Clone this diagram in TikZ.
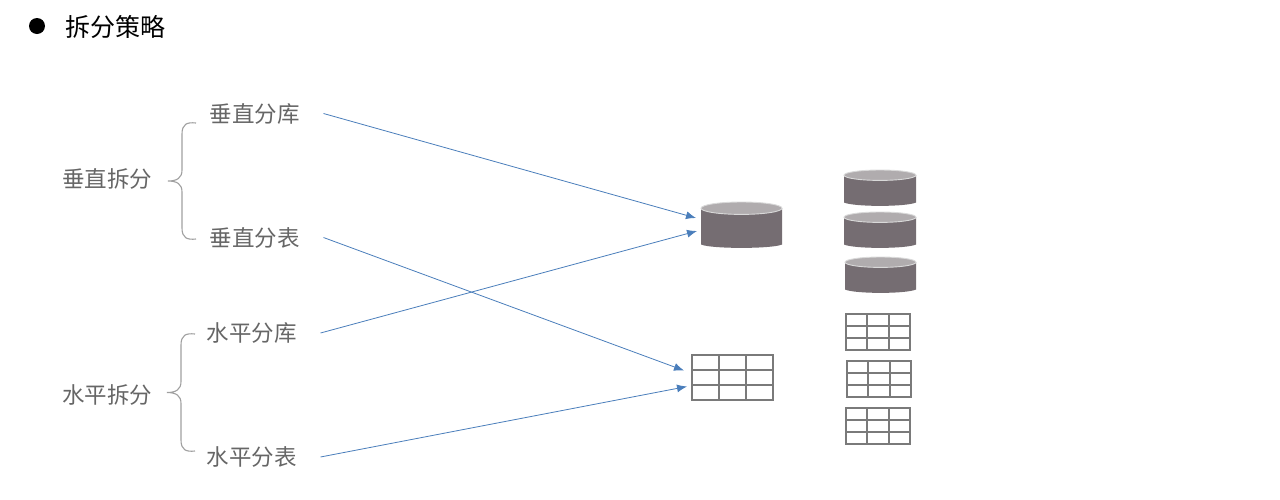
\documentclass[tikz,border=0pt]{standalone}
\usepackage{fontspec}
\setmainfont{Noto Sans CJK SC}
\usepackage{xcolor}
\usetikzlibrary{arrows.meta,calc}
\definecolor{flowblue}{HTML}{4A7EBB}
\definecolor{labelgray}{HTML}{666666}
\definecolor{diskbody}{HTML}{756D72}
\definecolor{disktop}{HTML}{B0ACAE}
\definecolor{gridgray}{HTML}{7A7A7A}
\tikzset{
  lbl/.style={text=labelgray,font=\fontsize{22.5}{24}\selectfont,inner sep=0pt,outer xsep=24pt},
  grouplbl/.style={text=labelgray,font=\fontsize{22.5}{24}\selectfont,inner sep=0pt},
  flow/.style={-{Latex[length=10pt,width=8pt]},flowblue,line width=0.8pt},
  bracket/.style={draw=gray!75,line width=1.1pt},
  tablebox/.style={draw=gridgray,line width=2pt,inner sep=0pt,
    path picture={
      \foreach \i in {1,2}{
        \draw[gridgray,line width=2pt] ($(path picture bounding box.south west)!\i/3!(path picture bounding box.south east)$) -- ($(path picture bounding box.north west)!\i/3!(path picture bounding box.north east)$);
        \draw[gridgray,line width=2pt] ($(path picture bounding box.south west)!\i/3!(path picture bounding box.north west)$) -- ($(path picture bounding box.south east)!\i/3!(path picture bounding box.north east)$);
      }
    }},
}
\begin{document}
\begin{tikzpicture}[x=1pt,y=-1pt]
  \useasboundingbox (0,0) rectangle (1280,499);
  % title
  \node[circle,fill=black,minimum size=16pt,inner sep=0pt] (dot) at (37,26) {};
  \node[font=\fontsize{25}{27}\selectfont,inner sep=0pt,anchor=west] (title) at (65,27) {拆分策略};
  % labels
  \node[grouplbl] (vsplit) at (107,178.5) {垂直拆分};
  \node[grouplbl] (hsplit) at (107,395) {水平拆分};
  \node[lbl] (vdb) at (254.5,113.5) {垂直分库};
  \node[lbl] (vtb) at (254.5,237.5) {垂直分表};
  \node[lbl] (hdb) at (251.5,333) {水平分库};
  \node[lbl] (htb) at (251.5,457) {水平分表};
  % braces
  \foreach \bx/\by/\hh in {182/181/58,181/392.5/58.5}{
    \draw[bracket] (\bx+14,\by-\hh) .. controls (\bx+5,\by-\hh-1) and (\bx,\by-\hh+1) .. (\bx,\by-\hh+11)
      -- (\bx,\by-11) .. controls (\bx,\by-3) and (\bx-5,\by) .. (\bx-14,\by)
      .. controls (\bx-5,\by) and (\bx,\by+3) .. (\bx,\by+11)
      -- (\bx,\by+\hh-11) .. controls (\bx,\by+\hh-1) and (\bx+5,\by+\hh+1) .. (\bx+14,\by+\hh);
  }
  % disks: centre x, half width, top, bottom, top radius
  \foreach \cx/\rx/\yt/\yb/\ry in {741.5/40.5/202/248/6.2,880/36/170/206/5.2,880/36/212/248/5.2,880.5/35.5/257/293/5.2}{
    \fill[diskbody] (\cx-\rx,\yt+\ry) -- (\cx-\rx,\yb-3.5) .. controls (\cx-\rx+10,\yb+1) and (\cx+\rx-10,\yb+1) .. (\cx+\rx,\yb-3.5) -- (\cx+\rx,\yt+\ry) -- cycle;
    \draw[gray!30,fill=disktop,line width=0.9pt] (\cx,\yt+\ry) ellipse [x radius=\rx,y radius=\ry];
  }
  % tables
  \node[tablebox,minimum width=81pt,minimum height=45pt] (bigtable) at (732,377.5) {};
  \node[tablebox,minimum width=64pt,minimum height=36pt] (tablea) at (878,331.5) {};
  \node[tablebox,minimum width=64pt,minimum height=36pt] (tableb) at (879,378.5) {};
  \node[tablebox,minimum width=64pt,minimum height=36pt] (tablec) at (878,426) {};
  % arrows
  \coordinate (diskina) at (696,218);
  \coordinate (diskinb) at (697,231);
  \coordinate (tableina) at (684,370.5);
  \coordinate (tableinb) at (687,386.5);
  \draw[flow] (vdb.east) -- (diskina);
  \draw[flow] (vtb.east) -- (tableina);
  \draw[flow] (hdb.east) -- (diskinb);
  \draw[flow] (htb.east) -- (tableinb);
\end{tikzpicture}
\end{document}
